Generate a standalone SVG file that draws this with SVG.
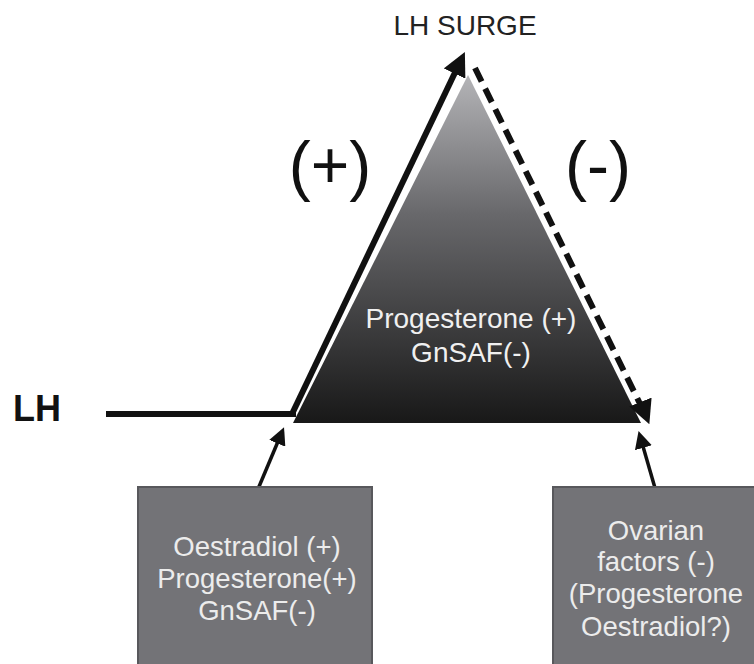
<svg xmlns="http://www.w3.org/2000/svg" width="754" height="664" viewBox="0 0 754 664">
<style>
text{font-family:"Liberation Sans",Arial,sans-serif}
.box{fill:#737377;stroke:#58585c;stroke-width:2}
.bt{fill:#ececec;font-size:27.5px;text-anchor:middle}
.ln{stroke:#111;stroke-width:6;fill:none}
.sm{stroke:#111;stroke-width:3.5;fill:none}
</style>
<defs>
<linearGradient id="g" x1="0" y1="0" x2="0" y2="1">
<stop offset="0" stop-color="#b4b4b7"/>
<stop offset="0.4" stop-color="#68686b"/>
<stop offset="1" stop-color="#181818"/>
</linearGradient>
<marker id="ah" markerWidth="4" markerHeight="4" refX="2.5" refY="2" orient="auto" markerUnits="strokeWidth">
<path d="M0,0 L4,2 L0,4 Z" fill="#111"/>
</marker>
<marker id="as" markerWidth="5" markerHeight="5" refX="3.5" refY="2.5" orient="auto" markerUnits="strokeWidth">
<path d="M0,0 L5,2.5 L0,5 Z" fill="#111"/>
</marker>
</defs>
<rect width="754" height="664" fill="#fff"/>
<g id="triangle">
<polygon points="468,75 293,423 641,423" fill="url(#g)"/>
<text x="471" y="328" fill="#f0f0f0" font-size="28" text-anchor="middle">Progesterone (+)</text>
<text x="471" y="362" fill="#f0f0f0" font-size="28" text-anchor="middle">GnSAF(-)</text>
</g>
<g id="labels">
<text x="465" y="35" font-size="28" fill="#222" text-anchor="middle">LH SURGE</text>
<text x="13" y="421" font-size="36" font-weight="bold" fill="#111">LH</text>
<text x="330" y="188" font-size="66" fill="#111" text-anchor="middle">(+)</text>
<text x="598" y="188" font-size="66" fill="#111" text-anchor="middle">(-)</text>
</g>
<g id="connectors">
<line class="ln" x1="106" y1="414" x2="296" y2="414"/>
<line class="ln" x1="292" y1="414" x2="461" y2="60" marker-end="url(#ah)"/>
<line class="ln" x1="475" y1="68" x2="645" y2="414" stroke-dasharray="15,8"/>
<line class="ln" x1="642" y1="406" x2="646" y2="416" marker-end="url(#ah)"/>
<line class="sm" x1="258" y1="489" x2="282" y2="432" marker-end="url(#as)"/>
<line class="sm" x1="655" y1="488" x2="640" y2="436" marker-end="url(#as)"/>
</g>
<g id="box-left">
<rect class="box" x="138" y="487" width="234" height="180"/>
<text class="bt" x="257" y="556">Oestradiol (+)</text>
<text class="bt" x="257" y="588">Progesterone(+)</text>
<text class="bt" x="257" y="620">GnSAF(-)</text>
</g>
<g id="box-right">
<rect class="box" x="553" y="487" width="205" height="180"/>
<text class="bt" x="656" y="540">Ovarian</text>
<text class="bt" x="656" y="571">factors (-)</text>
<text class="bt" x="656" y="603">(Progesterone</text>
<text class="bt" x="656" y="636">Oestradiol?)</text>
</g>
</svg>
